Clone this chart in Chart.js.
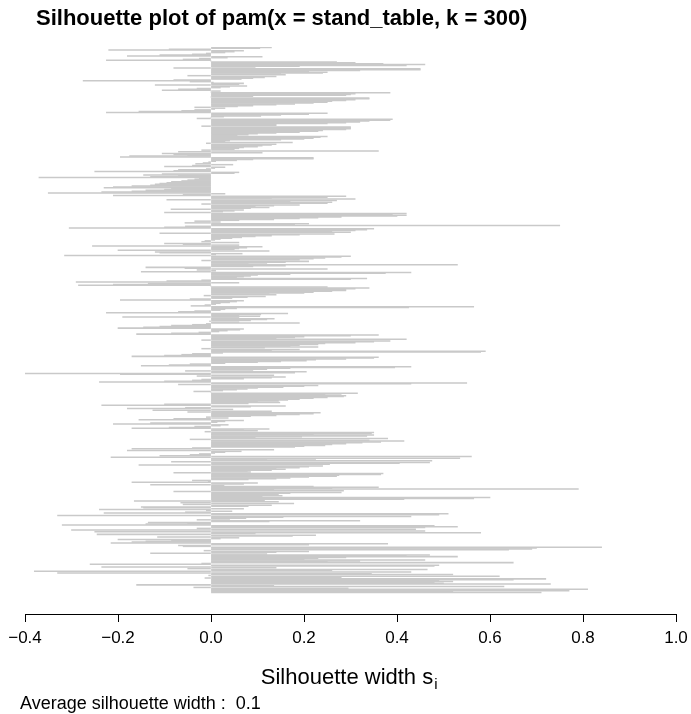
<!DOCTYPE html>
<html><head><meta charset="utf-8">
<script src="https://cdn.jsdelivr.net/npm/chart.js@4"></script>
<style>html,body{margin:0;padding:0;background:#fff}canvas{display:block}</style>
</head><body>
<canvas id="c" width="691" height="714"></canvas>
<script>
// Silhouette widths, top to bottom (0 = singleton / gap rows)
const silWidths = [
0.13,0.105,-0.09,-0.22,0.07,0.05,0.03,-0.01,-0.04,-0.11,-0.18,0.11,0.035,-0.025,-0.06,-0.225,0,0.27,0.31,0.37,0.46,0.42,0.19,0.095,-0.08,0.45,0.45,0.32,0.21,0.25,0.24,0.15,0.16,-0.05,0.14,0.115,0.09,0.065,-0.08,-0.275,-0.045,0.005,
0.07,0.06,-0.12,0.077,0.04,0.02,-0.03,-0.07,-0.105,0.02,0,0.385,0.31,0.30,0.29,0.09,0,0.34,0.34,0.31,0.29,0.26,0.25,0.22,0.18,0.14,0.09,0.057,-0.035,0.03,0.008,-0.035,-0.063,-0.155,-0.225,0.25,0.21,0.15,0.107,0.027,0,-0.03,0.39,0.385,0.34,0.32,0.29,0.25,0.14,0.14,-0.02,0.30,0.30,
0.30,0.29,0.24,0.23,0.19,0.14,0.10,0.08,0.056,0.25,0.235,0.22,0.20,0.15,0.04,0.03,0.175,-0.01,0.14,0.13,0.11,0.10,0.07,0.06,0.05,-0.02,0.36,-0.07,0.11,-0.105,-0.08,-0.05,-0.175,-0.195,0.22,0.22,0.09,0.055,0.01,-0.005,-0.017,-0.033,0.047,-0.04,-0.10,0.03,0.008,-0.01,-0.07,-0.08,-0.25,0.06,
0.05,-0.105,-0.145,-0.07,-0.13,-0.37,-0.025,-0.035,-0.05,-0.063,-0.085,-0.095,-0.11,-0.12,-0.13,-0.17,-0.21,-0.23,-0.085,-0.10,-0.14,-0.17,-0.235,-0.35,0.03,-0.06,-0.21,0.29,0.25,0.13,0.31,-0.095,0.27,0.17,0.26,0.25,-0.02,0.19,0.135,0.095,0.125,0.085,-0.086,0.07,0.05,0.025,-0.10,0.42,0.39,0.42,0.40,0.28,0.23,0.19,
0.135,0.06,-0.035,0.02,-0.056,0.21,0.18,0.75,-0.055,-0.10,-0.305,0.35,0.335,0.31,0.26,0.30,-0.11,0.265,0.19,0.13,0.095,0.066,0.045,0.02,0.008,-0.013,-0.02,0.06,-0.10,-0.06,0.06,-0.255,0.11,0.077,0.06,0.05,-0.20,0.125,-0.12,-0.11,0.067,0.01,-0.315,0.30,0.28,0.245,0.22,0.19,-0.02,0.21,0.16,0.12,0.08,
0.53,0.16,0.09,-0.14,-0.056,0.25,-0.03,0.01,-0.15,0.43,0.375,0.17,0.10,0.085,0.07,0.055,0.335,0.30,-0.02,-0.095,-0.29,0.06,-0.135,-0.21,-0.285,0,0.25,0.34,0.31,0.29,0.29,0.26,0.22,0.20,0.125,0.14,-0.015,0.117,0.078,0.045,-0.045,-0.195,0.07,0.055,0.04,0.02,0.01,-0.013,-0.043,0.565,0.425,0.055,0.03,0.02,-0.035,-0.07,-0.225,0.165,0.107,0.06,
0.105,-0.19,0.06,0.136,0.12,0.085,-0.003,0.06,0.19,-0.01,-0.04,-0.085,-0.11,-0.145,-0.2,0.07,0.062,0.035,0.017,-0.026,-0.085,-0.16,0.36,0.30,0.20,0.18,0.14,0.42,-0.02,0.385,0.35,0.31,0.245,0.23,0.19,0.17,0.23,0.115,-0.02,0.19,0.13,0.59,0.58,0.025,-0.04,-0.063,-0.10,-0.17,0.36,0.35,0.29,0.225,0.205,0.15,0.10,0.03,
-0.045,-0.09,-0.15,0.43,0.395,0.17,0.12,0.09,-0.055,0.205,0.18,-0.41,-0.195,0.135,-0.03,0.16,0.13,0.07,-0.02,-0.04,-0.10,-0.24,0.55,0.43,-0.07,0.23,0.20,0.155,0.10,0.078,0.055,0.025,-0.037,0,0.315,0.28,0.245,0.29,0.285,0.25,0.22,0.19,0.165,0.145,0.10,0.148,0.08,-0.10,-0.235,0.16,0.085,-0.055,-0.18,0.047,-0.125,0.13,-0.05,0.235,
0.22,0.19,0.14,0.085,-0.01,0.037,-0.08,-0.155,0.07,0.03,0.013,-0.13,-0.21,0.037,0.02,-0.035,-0.09,-0.17,0.125,0.07,0.10,-0.013,0.35,0.345,0.22,0.35,0.335,0.195,0.095,0.38,-0.045,0.34,0.415,0.365,0.325,0.29,0.26,0.245,0.2,0.18,-0.04,-0.17,0.135,-0.18,0.065,0.03,0.008,-0.025,-0.045,-0.11,0.56,-0.215,0.535,0.225,0.12,0.475,-0.085,0.47,
0.405,0.255,-0.155,0.24,0.21,0.19,0.14,0.16,0.13,0.078,0.085,-0.08,0.37,0.365,0.275,0.27,0.21,0.17,0.14,0.08,-0.04,-0.006,-0.17,0.1,0.07,-0.13,0.028,0.22,0.36,0.26,0.79,0.135,0.285,-0.08,0.28,0.17,0.145,0.11,0.153,0.11,0.6,0.565,0.415,0.115,-0.165,0.145,-0.065,0.178,-0.06,0.13,0.08,-0.15,-0.145,0.07,-0.24,-0.01,0.045,-0.055,-0.23,0.51,0.49,
-0.33,0.43,0.155,0.075,0.04,-0.03,0.32,0.125,-0.135,-0.05,-0.14,-0.32,0.48,0.53,0.46,-0.03,0.44,-0.3,0.46,-0.25,0.58,0.095,-0.245,0.225,0.175,-0.115,0.06,0.02,-0.2,-0.085,-0.14,-0.17,-0.215,0.38,0.21,-0.07,-0.06,0.84,0.7,0.69,0.64,-0.015,0.21,0.14,-0.13,0.12,0.47,0.42,0.53,0.29,0.23,0.2,0.46,0.32,0.25,
0.65,-0.02,-0.26,0.49,0.48,-0.235,0.14,-0.05,0.465,0.26,-0.38,0.43,-0.33,0.345,0.52,-0.005,0.62,0.28,-0.013,0.72,0.65,0.49,0.52,0.48,0.5,0.73,-0.16,0.135,0.63,-0.037,0.295,0.81,0.655,0.77,0.52,0.71
];
const tickValues = [-0.4, -0.2, 0.0, 0.2, 0.4, 0.6, 0.8, 1.0];
const tickLabels = ['\u22120.4', '\u22120.2', '0.0', '0.2', '0.4', '0.6', '0.8', '1.0'];
const titleText = 'Silhouette plot of pam(x = stand_table, k = 300)';
const xTitleMain = 'Silhouette width s';
const xTitleSub = 'i';
const avgWidthLabel = 'Average silhouette width :  ';
const avgWidth = '0.1';

const N = silWidths.length;
const BAR_TOP = 47, BAR_BOTTOM = 593, AXIS_Y = 614;
const yMax = -0.5 + N * (AXIS_Y - BAR_TOP) / (BAR_BOTTOM - BAR_TOP);

const textPlugin = {
  id: 'texts',
  afterDraw(chart) {
    const ctx = chart.ctx;
    ctx.save();
    ctx.fillStyle = '#000';
    ctx.textBaseline = 'alphabetic';
    ctx.textAlign = 'left';
    ctx.font = 'bold 22px "Liberation Sans", Arial, sans-serif';
    ctx.fillText(titleText, 36, 25);
    ctx.font = '22px "Liberation Sans", Arial, sans-serif';
    const w = ctx.measureText(xTitleMain).width;
    const cx = chart.scales.x.getPixelForValue(0.3);
    const x0 = cx - (w + 7) / 2;
    ctx.fillText(xTitleMain, x0, 684);
    ctx.font = '15px "Liberation Sans", Arial, sans-serif';
    ctx.fillText(xTitleSub, x0 + w + 1, 689);
    ctx.font = '18px "Liberation Sans", Arial, sans-serif';
    ctx.fillText(avgWidthLabel + avgWidth, 20, 709);
    ctx.restore();
  }
};

new Chart(document.getElementById('c'), {
  type: 'bar',
  data: {
    datasets: [{
      data: silWidths.map((v, i) => ({ x: v, y: i })),
      backgroundColor: '#c9c9c9',
      borderWidth: 0,
      barPercentage: 1,
      categoryPercentage: 1
    }]
  },
  options: {
    indexAxis: 'y',
    responsive: false,
    animation: false,
    devicePixelRatio: 1,
    layout: { padding: { left: 25, right: 15, top: BAR_TOP, bottom: 60 } },
    plugins: { legend: { display: false }, tooltip: { enabled: false }, title: { display: false } },
    scales: {
      y: { type: 'linear', reverse: true, min: -0.5, max: yMax, offset: false, grace: 0, bounds: 'data', display: false },
      x: {
        type: 'linear', min: -0.4, max: 1.0, offset: false,
        afterBuildTicks(s) { s.ticks = tickValues.map(v => ({ value: v })); },
        afterFit(s) { s.height = 40; s.paddingLeft = 0; s.paddingRight = 0; },
        border: { display: true, color: '#000', width: 1 },
        grid: { display: true, drawOnChartArea: false, drawTicks: true, tickLength: 8, color: '#000', lineWidth: 1 },
        ticks: {
          color: '#000', padding: 6, maxRotation: 0, autoSkip: false,
          font: { family: '"Liberation Sans", Arial, sans-serif', size: 17 },
          callback(v, i) { return tickLabels[i]; }
        }
      }
    }
  },
  plugins: [textPlugin]
});
</script>
</body></html>
